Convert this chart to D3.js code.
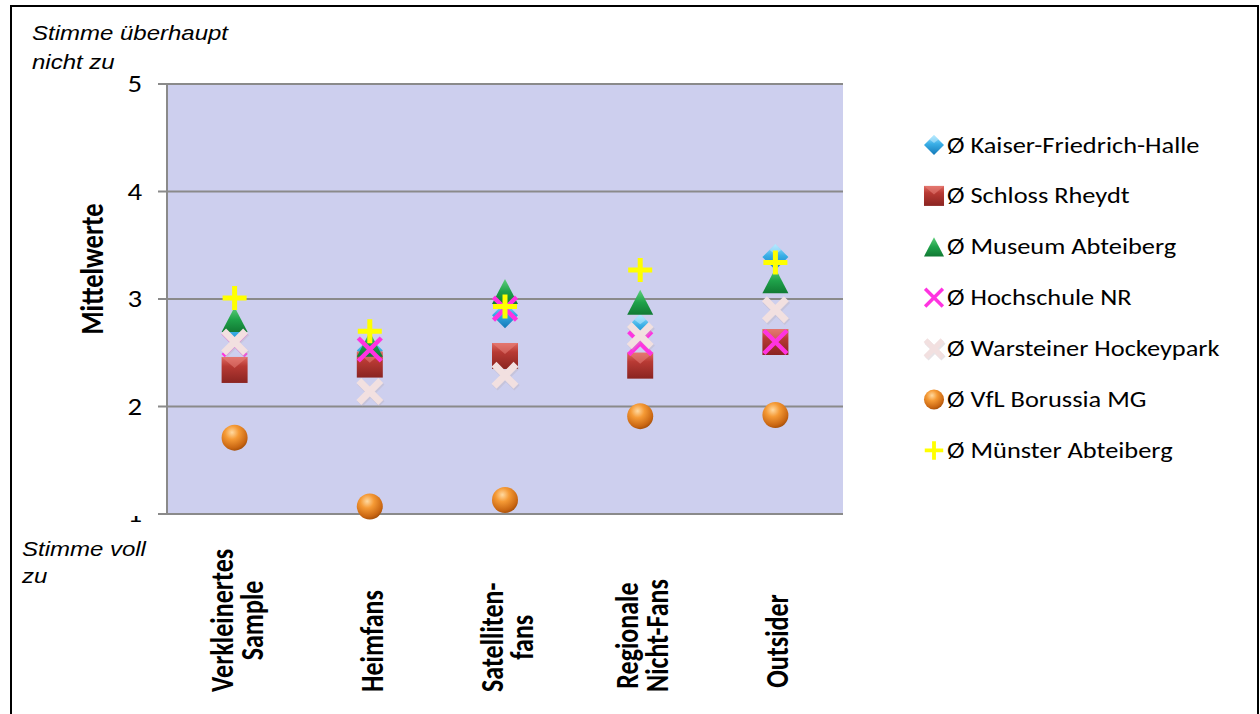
<!DOCTYPE html>
<html><head><meta charset="utf-8">
<script src="https://cdn.jsdelivr.net/npm/d3@7"></script>
<style>body{margin:0;background:#fff}svg{display:block}</style>
</head><body>
<svg id="chart" width="1260" height="714"></svg>
<script>
// ---- data ----
const categories = ["Verkleinertes Sample","Heimfans","Satelliten-fans","Regionale Nicht-Fans","Outsider"];
const categoryLines = [["Verkleinertes","Sample"],["Heimfans"],["Satelliten-","fans"],["Regionale","Nicht-Fans"],["Outsider"]];
const seriesNames = ["Ø Kaiser-Friedrich-Halle","Ø Schloss Rheydt","Ø Museum Abteiberg","Ø Hochschule NR","Ø Warsteiner Hockeypark","Ø VfL Borussia MG","Ø Münster Abteiberg"];
const kaiser     = [2.68, 2.52, 2.85, 2.74, 3.39];
const schloss    = [2.34, 2.39, 2.47, 2.38, 2.60];
const museum     = [2.81, 2.58, 3.07, 2.97, 3.17];
const hochschule = [2.58, 2.53, 2.91, 2.59, 2.60];
const warsteiner = [2.60, 2.14, 2.29, 2.66, 2.90];
const vfl        = [1.71, 1.07, 1.13, 1.91, 1.92];
const muenster   = [3.01, 2.70, 2.93, 3.27, 3.34];
const yTicks = [1,2,3,4,5];
const yTitle = "Mittelwerte";
const topNote = ["Stimme überhaupt","nicht zu"];
const bottomNote = ["Stimme voll","zu"];

const seriesValues = [kaiser, schloss, museum, hochschule, warsteiner, vfl, muenster];
const seriesShapes = ["diamond","square","triangle","xmag","xpale","sphere","plus"];

// ---- layout ----
const plot = {l:167, r:843, t:84, b:514};
const FONT = "Carlito, Calibri, 'Open Sans', sans-serif";
const SX = 1.2;

const svg = d3.select("#chart");
const x = d3.scaleBand().domain(categories).range([plot.l, plot.r]);
const y = d3.scaleLinear().domain([1,5]).range([plot.b, plot.t]);

const defs = svg.append("defs");
function lin(id, stops){
  const g = defs.append("linearGradient").attr("id",id).attr("x1",0).attr("y1",0).attr("x2",0).attr("y2",1);
  stops.forEach(s=>g.append("stop").attr("offset",s[0]).attr("stop-color",s[1]));
}
lin("gDia",[[0,"#9fe3ff"],[0.45,"#39aee6"],[1,"#1479b8"]]);
lin("gSq",[[0,"#e06a62"],[0.35,"#b83a34"],[1,"#8a2421"]]);
lin("gTri",[[0,"#5fd07c"],[0.5,"#1fa24a"],[1,"#117a34"]]);
const rg = defs.append("radialGradient").attr("id","gSph").attr("cx","0.4").attr("cy","0.3").attr("r","0.75");
[[0,"#ffd9a0"],[0.35,"#f59a35"],[0.8,"#c96612"],[1,"#9c4a08"]].forEach(s=>rg.append("stop").attr("offset",s[0]).attr("stop-color",s[1]));

function drawMarker(g, shape, s){
  const r = 13*s;
  if(shape==="diamond"){
    g.append("path").attr("d",`M0,${-r}L${r},0L0,${r}L${-r},0Z`).attr("fill","url(#gDia)");
    g.append("path").attr("d",`M0,${-r}L${r*0.45},${-r*0.55}L0,${-r*0.2}L${-r*0.45},${-r*0.55}Z`).attr("fill","#c9f0ff").attr("opacity",0.5);
  } else if(shape==="square"){
    g.append("rect").attr("x",-r).attr("y",-r).attr("width",2*r).attr("height",2*r).attr("fill","url(#gSq)");
    g.append("path").attr("d",`M${-r},${-r}L${r},${-r}L0,${-r*0.15}Z`).attr("fill","#e8827a").attr("opacity",0.55);
  } else if(shape==="triangle"){
    const h = 12.5*s;
    g.append("path").attr("d",`M0,${-h}L${r},${h}L${-r},${h}Z`).attr("fill","url(#gTri)");
  } else if(shape==="sphere"){
    g.append("circle").attr("r",r).attr("fill","url(#gSph)");
  } else if(shape==="xmag"){
    const a = 11.5*s;
    g.append("path").attr("d",`M${-a},${-a}L${a},${a}M${-a},${a}L${a},${-a}`).attr("stroke","#ff33e0").attr("stroke-width",4.5*s).attr("fill","none");
  } else if(shape==="xpale"){
    const a = 11*s;
    g.append("path").attr("d",`M${-a},${-a}L${a},${a}M${-a},${a}L${a},${-a}`).attr("stroke","#b9b0b8").attr("stroke-width",7.5*s).attr("fill","none").attr("opacity",0.35).attr("transform","translate(1,1.5)");
    g.append("path").attr("d",`M${-a},${-a}L${a},${a}M${-a},${a}L${a},${-a}`).attr("stroke","#f2e0e0").attr("stroke-width",7*s).attr("fill","none");
  } else if(shape==="plus"){
    const a = 12*s;
    g.append("path").attr("d",`M${-a},0L${a},0M0,${-a}L0,${a}`).attr("stroke","#ffff00").attr("stroke-width",5*s).attr("fill","none");
  }
}

function hText(parent, px, py, str, opts){
  const g = parent.append("g").attr("transform",`translate(${px},${py}) scale(${opts.sx||SX},1)`);
  const t = g.append("text").text(str)
    .attr("font-family",opts.family||FONT).attr("font-size",opts.size)
    .attr("font-style",opts.style||"normal").attr("font-weight",opts.weight||"normal")
    .attr("text-anchor",opts.anchor||"start").attr("fill","#000");
  if(opts.clip) t.attr("clip-path",opts.clip);
  return t;
}

// outer frame
svg.append("rect").attr("x",11).attr("y",6).attr("width",1247).attr("height",730)
  .attr("fill","#fff").attr("stroke","#000").attr("stroke-width",2);

// plot background
svg.append("rect").attr("x",plot.l).attr("y",plot.t).attr("width",plot.r-plot.l).attr("height",plot.b-plot.t).attr("fill","#cdcfee");

// gridlines + ticks
svg.append("g").selectAll("line").data(yTicks).join("line")
  .attr("x1",plot.l-9).attr("x2",plot.r).attr("y1",d=>y(d)).attr("y2",d=>y(d))
  .attr("stroke","#8a8a8a").attr("stroke-width",2);
svg.append("line").attr("x1",plot.l).attr("x2",plot.l).attr("y1",plot.t).attr("y2",plot.b).attr("stroke","#8a8a8a").attr("stroke-width",2);

// y tick labels
defs.append("clipPath").attr("id","clip1").append("rect").attr("x",-40).attr("y",-6).attr("width",80).attr("height",30);
yTicks.forEach(v=>{
  hText(svg, 142, y(v)+8, String(v), {size:24, anchor:"end", clip: v===1 ? "url(#clip1)" : null});
});

// y title
svg.append("text").text(yTitle)
  .attr("transform",`translate(103,269) scale(${SX},1) rotate(-90)`)
  .attr("text-anchor","middle").attr("font-family",FONT).attr("font-weight","bold").attr("font-size",26.5);

// category labels
const catG = svg.append("g");
categoryLines.forEach((lines,i)=>{
  const cx = x(categories[i]) + x.bandwidth()/2;
  const g = catG.append("g");
  const texts = lines.map(ln=> g.append("text").text(ln)
    .attr("font-family",FONT).attr("font-weight","bold").attr("font-size",26)
    .attr("text-anchor","middle"));
  const maxLen = d3.max(texts, t=>t.node().getComputedTextLength());
  const cy = Math.min(641, 692 - maxLen/2);
  const n = lines.length;
  texts.forEach((t,j)=>{
    const bx = cx + 13 + (j-(n-1)/2)*30;
    t.attr("transform",`translate(${bx},${cy}) scale(${SX},1) rotate(-90)`);
  });
});

// markers (series in drawing order)
seriesValues.forEach((vals,si)=>{
  const gs = svg.append("g").attr("class","series");
  vals.forEach((v,ci)=>{
    const g = gs.append("g").attr("transform",`translate(${x(categories[ci])+x.bandwidth()/2},${y(v)})`);
    drawMarker(g, seriesShapes[si], 1);
  });
});

// legend
const legY0 = 145, legStep = 50.9;
seriesNames.forEach((name,i)=>{
  const cy = legY0 + i*legStep;
  const g = svg.append("g").attr("transform",`translate(934,${cy})`);
  drawMarker(g, seriesShapes[i], 0.77);
  hText(svg, 947, cy+7.5, name, {size:22});
});

// notes
const NOTE = "'Liberation Sans', Arial, sans-serif";
topNote.forEach((t,i)=> hText(svg, 32, 40+i*28.5, t, {size:20, style:"italic", family:NOTE}));
bottomNote.forEach((t,i)=> hText(svg, 22, 556+i*27, t, {size:20, style:"italic", family:NOTE}));
</script>
</body></html>
